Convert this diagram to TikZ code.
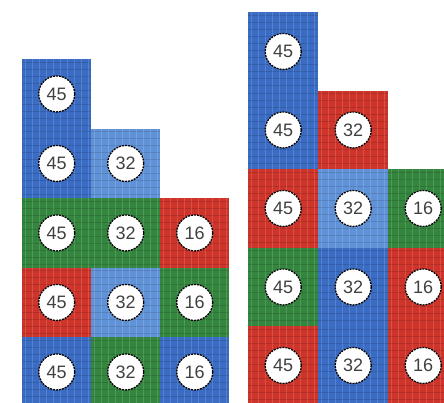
\documentclass[tikz,border=0pt]{standalone}
\usepackage{fontspec}
\setmainfont{Liberation Sans}

\definecolor{gridblue}{RGB}{58,108,196}
\definecolor{gridlblue}{RGB}{96,146,216}
\definecolor{gridgreen}{RGB}{52,134,62}
\definecolor{gridred}{RGB}{206,52,42}

\tikzset{
  tile/.style={fill=#1, inner sep=0pt, anchor=north west,
    path picture={
      \foreach \k in {0,...,12} {
        \draw[white, opacity=0.15, line width=1.2pt]
          ([xshift=\k*7pt+3pt]path picture bounding box.north west)
          -- ([xshift=\k*7pt+3pt]path picture bounding box.south west);
        \draw[black, opacity=0.12, line width=1.2pt]
          ([yshift=-\k*7pt-3pt]path picture bounding box.north west)
          -- ([yshift=-\k*7pt-3pt]path picture bounding box.north east);
      }
    }},
  ltile/.style={tile=#1, minimum width=69pt, minimum height=69.5pt},
  rtile/.style={tile=#1, minimum width=70pt, minimum height=78.5pt},
  tag/.style={circle, fill=white, draw=black, line width=1.3pt,
    dash pattern=on 2pt off 1pt, minimum size=36pt, inner sep=0pt,
    text=black!75, font=\fontsize{18}{18}\selectfont},
}

\begin{document}
\begin{tikzpicture}[x=1pt, y=-1pt]
  \useasboundingbox (0,0) rectangle (444,403);
  \clip (0,0) rectangle (444,403);

  % left stack
  \foreach \c/\r/\col/\n in {1/1/gridblue/45, 1/2/gridblue/45, 2/2/gridlblue/32,
      1/3/gridgreen/45, 2/3/gridgreen/32, 3/3/gridred/16,
      1/4/gridred/45, 2/4/gridlblue/32, 3/4/gridgreen/16,
      1/5/gridblue/45, 2/5/gridgreen/32, 3/5/gridblue/16} {
    \node[ltile=\col] (L\c\r) at ({22+(\c-1)*69}, {59+(\r-1)*69.5}) {};
    \node[tag] (tL\c\r) at (L\c\r.center) {\n};
  }

  % right stack
  \foreach \c/\r/\col/\n in {1/1/gridblue/45, 1/2/gridblue/45, 2/2/gridred/32,
      1/3/gridred/45, 2/3/gridlblue/32, 3/3/gridgreen/16,
      1/4/gridgreen/45, 2/4/gridblue/32, 3/4/gridred/16,
      1/5/gridred/45, 2/5/gridblue/32, 3/5/gridred/16} {
    \node[rtile=\col] (R\c\r) at ({248+(\c-1)*70}, {12+(\r-1)*78.5}) {};
    \node[tag] (tR\c\r) at (R\c\r.center) {\n};
  }
\end{tikzpicture}
\end{document}
